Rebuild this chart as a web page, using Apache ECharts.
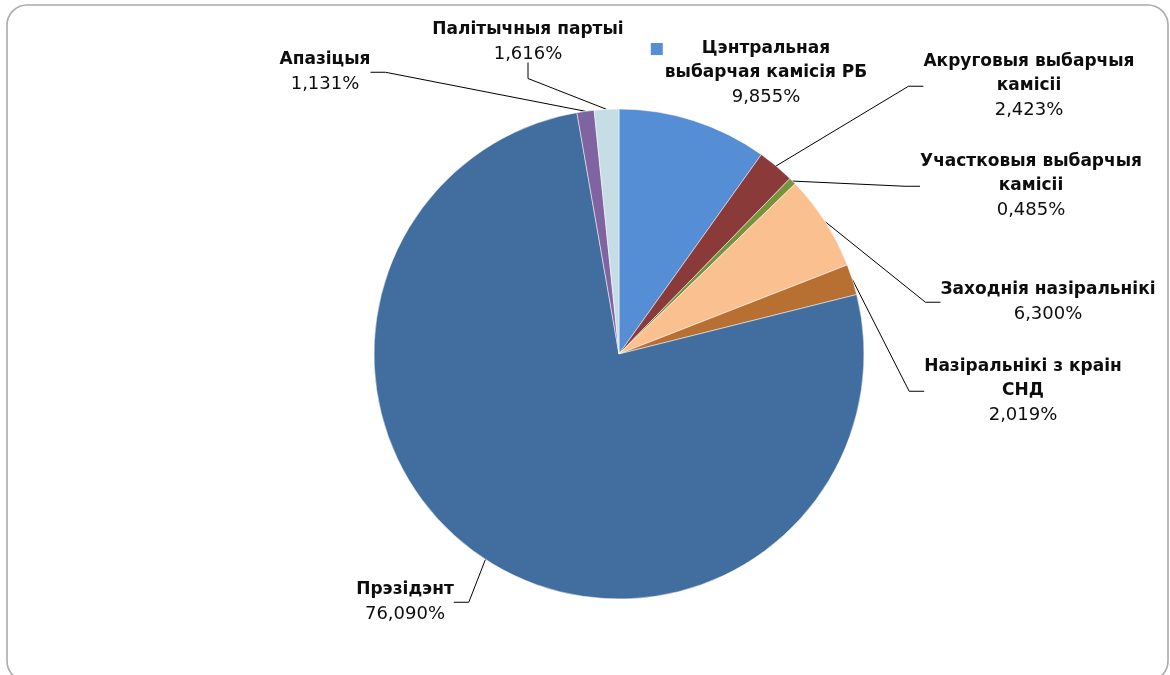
<!DOCTYPE html>
<html>
<head>
<meta charset="utf-8">
<script src="https://cdn.jsdelivr.net/npm/echarts@6/dist/echarts.min.js"></script>
<style>
html,body{margin:0;padding:0;background:#fff;}
#chart{width:1170px;height:675px;}
</style>
</head>
<body>
<div id="chart"></div>
<script>
// ---- data ----
const categories = [
  'Цэнтральная\nвыбарчая камісія РБ',
  'Акруговыя выбарчыя\nкамісіі',
  'Участковыя выбарчыя\nкамісіі',
  'Заходнія назіральнікі',
  'Назіральнікі з краін\nСНД',
  'Прэзідэнт',
  'Апазіцыя',
  'Палітычныя партыі'
];
const values = [9.855, 2.423, 0.485, 6.300, 2.019, 76.090, 1.131, 1.616];

// ---- styles / layout (not data) ----
const colors = ['#558ED5', '#8B3A3A', '#77933C', '#FAC090', '#B86F32', '#426E9F', '#8064A2', '#C6DDE5'];
// label block anchor: [center x, top y]
const labelPos = [
  [766, 37], [1029, 50], [1031, 150], [1048, 278],
  [1023, 355], [405, 578], [325, 48], [528, 18]
];
// labels whose leader line leaves from the bottom edge
const bottomLeader = [7];

const chart = echarts.init(document.getElementById('chart'));
const fontFamily = 'DejaVu Sans, Verdana, sans-serif';

function fmtVal(v) { return v.toFixed(3).replace('.', ',') + '%'; }

const seriesData = categories.map((name, i) => {
  const item = { name: name, value: values[i], itemStyle: { color: colors[i] } };
  if (i === 0) item.labelLine = { show: false };
  return item;
});

chart.setOption({
  animation: false,
  backgroundColor: '#ffffff',
  graphic: [{
    type: 'rect',
    shape: { x: 7, y: 5, width: 1161, height: 676, r: 20 },
    style: { fill: 'none', stroke: '#ABABAB', lineWidth: 1.6 },
    silent: true
  }],
  series: [{
    type: 'pie',
    center: [619, 354],
    radius: [0, 245],
    startAngle: 90,
    clockwise: true,
    avoidLabelOverlap: false,
    itemStyle: { borderColor: '#ffffff', borderWidth: 0.5 },
    label: {
      show: true,
      position: 'outside',
      color: '#0d0d0d',
      fontFamily: fontFamily,
      formatter: function (p) {
        const lines = p.name.split('\n');
        let s;
        if (p.dataIndex === 0) {
          s = '{sq|}{g1|}{n|' + lines[0] + '}{g2|}\n{n|' + lines[1] + '}';
        } else {
          s = lines.map(l => '{n|' + l + '}').join('\n');
        }
        return s + '\n{v|' + fmtVal(p.value) + '}';
      },
      rich: {
        n: { fontFamily: fontFamily, fontSize: 17, fontWeight: 'bold', lineHeight: 24, color: '#0d0d0d' },
        v: { fontFamily: fontFamily, fontSize: 18, fontWeight: 'normal', lineHeight: 24, color: '#0d0d0d' },
        sq: { width: 12, height: 12, backgroundColor: '#558ED5', lineHeight: 24 },
        g1: { width: 39, lineHeight: 24 },
        g2: { width: 51, lineHeight: 24 }
      }
    },
    labelLine: {
      show: true,
      length: 10,
      length2: 15,
      smooth: false,
      lineStyle: { color: '#000000', width: 1 }
    },
    labelLayout: function (params) {
      const i = params.dataIndex;
      const pos = labelPos[i];
      const out = { x: pos[0], y: pos[1], align: 'center', verticalAlign: 'top' };
      if (bottomLeader.indexOf(i) >= 0 && params.labelLinePoints && params.labelRect) {
        const anchor = params.labelLinePoints[0];
        const bottom = pos[1] + params.labelRect.height;
        out.labelLinePoints = [
          [anchor[0], anchor[1]],
          [pos[0], bottom + 19],
          [pos[0], bottom + 3]
        ];
      }
      return out;
    },
    emphasis: { disabled: true },
    data: seriesData
  }]
});
</script>
</body>
</html>
